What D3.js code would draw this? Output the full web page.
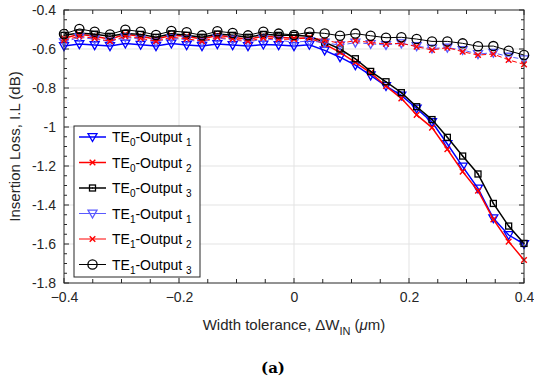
<!DOCTYPE html>
<html>
<head>
<meta charset="utf-8">
<script src="https://cdn.jsdelivr.net/npm/d3@7"></script>
<style>
  body { margin: 0; background: #fff; }
  svg text { font-family: "Liberation Sans", Arial, Helvetica, sans-serif; }
</style>
</head>
<body>
<div id="chart"></div>
<script>
// width offsets (um)
const widthTol = [-0.4, -0.3733, -0.3467, -0.32, -0.2933, -0.2667, -0.24, -0.2133, -0.1867, -0.16,
  -0.1333, -0.1067, -0.08, -0.0533, -0.0267, 0, 0.0267, 0.0533, 0.08, 0.1067,
  0.1333, 0.16, 0.1867, 0.2133, 0.24, 0.2667, 0.2933, 0.32, 0.3467, 0.3733, 0.4];

const te0Out1 = [-0.585, -0.575, -0.58, -0.585, -0.572, -0.578, -0.585, -0.572, -0.58, -0.585,
  -0.575, -0.58, -0.585, -0.577, -0.58, -0.585, -0.578, -0.607, -0.642, -0.683,
  -0.735, -0.79, -0.838, -0.905, -0.975, -1.087, -1.203, -1.315, -1.468, -1.554, -1.6];
const te0Out2 = [-0.545, -0.525, -0.535, -0.55, -0.525, -0.535, -0.55, -0.53, -0.535, -0.55,
  -0.53, -0.54, -0.55, -0.535, -0.54, -0.545, -0.543, -0.575, -0.617, -0.668,
  -0.722, -0.79, -0.853, -0.938, -1.003, -1.114, -1.229, -1.327, -1.474, -1.588, -1.682];
const te0Out3 = [-0.53, -0.518, -0.524, -0.535, -0.52, -0.525, -0.54, -0.522, -0.53, -0.54,
  -0.523, -0.53, -0.54, -0.525, -0.53, -0.53, -0.535, -0.565, -0.6, -0.65,
  -0.715, -0.768, -0.824, -0.896, -0.962, -1.053, -1.149, -1.241, -1.392, -1.508, -1.597];
const te1Out1 = [-0.565, -0.54, -0.55, -0.562, -0.54, -0.55, -0.565, -0.545, -0.552, -0.565,
  -0.545, -0.552, -0.565, -0.548, -0.555, -0.565, -0.559, -0.567, -0.581, -0.567,
  -0.574, -0.579, -0.571, -0.585, -0.597, -0.593, -0.605, -0.626, -0.619, -0.639, -0.653];
const te1Out2 = [-0.555, -0.535, -0.545, -0.56, -0.535, -0.545, -0.56, -0.54, -0.547, -0.56,
  -0.54, -0.548, -0.56, -0.543, -0.55, -0.55, -0.542, -0.554, -0.571, -0.557,
  -0.567, -0.574, -0.571, -0.588, -0.605, -0.593, -0.614, -0.631, -0.626, -0.656, -0.679];
const te1Out3 = [-0.523, -0.497, -0.511, -0.525, -0.501, -0.511, -0.528, -0.508, -0.514, -0.53,
  -0.509, -0.518, -0.53, -0.511, -0.521, -0.528, -0.514, -0.52, -0.532, -0.521,
  -0.532, -0.542, -0.54, -0.549, -0.561, -0.561, -0.571, -0.586, -0.585, -0.609, -0.631];

const xTicks = [-0.4, -0.2, 0, 0.2, 0.4];
const yTicks = [-0.4, -0.6, -0.8, -1, -1.2, -1.4, -1.6, -1.8];

const series = [
  { mode: '0', port: '1', values: te0Out1, color: '#0000ff', marker: 'tri', width: 1.5, dash: null },
  { mode: '0', port: '2', values: te0Out2, color: '#ff0000', marker: 'x', width: 1.5, dash: null },
  { mode: '0', port: '3', values: te0Out3, color: '#000000', marker: 'sq', width: 1.5, dash: null },
  { mode: '1', port: '1', values: te1Out1, color: '#5a5aff', marker: 'tri', width: 1, dash: '5,3' },
  { mode: '1', port: '2', values: te1Out2, color: '#ff0000', marker: 'x', width: 1, dash: '5,3' },
  { mode: '1', port: '3', values: te1Out3, color: '#000000', marker: 'circ', width: 1, dash: null }
];

const W = 534, H = 382;
const pL = 64, pR = 524, pT = 10, pB = 283;

const svg = d3.select('#chart').append('svg')
  .attr('width', W)
  .attr('height', H);

const x = d3.scaleLinear().domain([-0.4, 0.4]).range([pL, pR]);
const y = d3.scaleLinear().domain([-1.8, -0.4]).range([pB, pT]);

// grid
svg.append('g')
  .selectAll('line')
  .data(xTicks.slice(1, -1))
  .enter().append('line')
  .attr('x1', d => x(d)).attr('x2', d => x(d))
  .attr('y1', pT).attr('y2', pB)
  .attr('stroke', '#e3e3e3');
svg.append('g')
  .selectAll('line')
  .data(yTicks.slice(1, -1))
  .enter().append('line')
  .attr('y1', d => y(d)).attr('y2', d => y(d))
  .attr('x1', pL).attr('x2', pR)
  .attr('stroke', '#e3e3e3');

// minor ticks on all four sides
const xMinor = d3.range(-0.4, 0.4001, 0.05);
const yMinor = d3.range(-1.8, -0.3999, 0.05);
const tickCol = '#262626';
const mt = svg.append('g').attr('stroke', tickCol);
xMinor.forEach(v => {
  const major = xTicks.some(t => Math.abs(t - v) < 1e-6);
  const len = major ? 5 : 4;
  mt.append('line').attr('x1', x(v)).attr('x2', x(v)).attr('y1', pB).attr('y2', pB - len);
  mt.append('line').attr('x1', x(v)).attr('x2', x(v)).attr('y1', pT).attr('y2', pT + len);
});
yMinor.forEach(v => {
  const major = yTicks.some(t => Math.abs(t - v) < 1e-6);
  const len = major ? 5 : 3;
  mt.append('line').attr('y1', y(v)).attr('y2', y(v)).attr('x1', pL).attr('x2', pL + len);
  mt.append('line').attr('y1', y(v)).attr('y2', y(v)).attr('x1', pR).attr('x2', pR - len);
});

// axes (labels only, ticks drawn above)
const xAxis = svg.append('g')
  .attr('transform', `translate(0,${pB})`)
  .call(d3.axisBottom(x).tickValues(xTicks).tickSize(0).tickPadding(9).tickFormat(d => d === 0 ? '0' : d3.format('.1f')(d)));
xAxis.select('.domain').remove();
xAxis.attr('font-family', null).attr('font-size', null);
xAxis.selectAll('text').style('font-size', '14px').attr('fill', '#262626');

const yAxis = svg.append('g')
  .attr('transform', `translate(${pL},0)`)
  .call(d3.axisLeft(y).tickValues(yTicks).tickSize(0).tickPadding(8).tickFormat(d => String(+d.toFixed(1))));
yAxis.select('.domain').remove();
yAxis.attr('font-family', null).attr('font-size', null);
yAxis.selectAll('text').style('font-size', '14px').attr('fill', '#262626');

// series
const line = d3.line().x((d, i) => x(widthTol[i])).y(d => y(d));

function drawMarker(g, type, cx, cy, color) {
  if (type === 'tri') {
    const s = 4.5;
    g.append('path')
      .attr('d', `M${cx - s},${cy - s * 0.75}L${cx + s},${cy - s * 0.75}L${cx},${cy + s}Z`)
      .attr('fill', 'none').attr('stroke', color).attr('stroke-width', 1.3);
  } else if (type === 'x') {
    const s = 2.8;
    g.append('path')
      .attr('d', `M${cx - s},${cy - s}L${cx + s},${cy + s}M${cx - s},${cy + s}L${cx + s},${cy - s}`)
      .attr('stroke', color).attr('stroke-width', 1.4);
  } else if (type === 'sq') {
    const s = 3;
    g.append('rect')
      .attr('x', cx - s).attr('y', cy - s).attr('width', 2 * s).attr('height', 2 * s)
      .attr('fill', 'none').attr('stroke', color).attr('stroke-width', 1.3);
    g.append('circle').attr('cx', cx).attr('cy', cy).attr('r', 0.7).attr('fill', color);
  } else if (type === 'circ') {
    g.append('circle').attr('cx', cx).attr('cy', cy).attr('r', 4.6)
      .attr('fill', 'none').attr('stroke', color).attr('stroke-width', 1.3);
  }
}

series.forEach(s => {
  const g = svg.append('g');
  g.append('path')
    .datum(s.values)
    .attr('d', line)
    .attr('fill', 'none')
    .attr('stroke', s.color)
    .attr('stroke-width', s.width)
    .attr('stroke-dasharray', s.dash);
  s.values.forEach((v, i) => drawMarker(g, s.marker, x(widthTol[i]), y(v), s.color));
});

// box
svg.append('rect')
  .attr('x', pL).attr('y', pT)
  .attr('width', pR - pL).attr('height', pB - pT)
  .attr('fill', 'none').attr('stroke', tickCol).attr('stroke-width', 1);

// legend
const lg = svg.append('g');
lg.append('rect')
  .attr('x', 74).attr('y', 126).attr('width', 126).attr('height', 151)
  .attr('fill', '#fff').attr('stroke', '#262626').attr('stroke-width', 1);
series.forEach((s, i) => {
  const cy = 137 + i * 25.5;
  lg.append('line')
    .attr('x1', 79).attr('x2', 106).attr('y1', cy).attr('y2', cy)
    .attr('stroke', s.color).attr('stroke-width', s.width);
  drawMarker(lg, s.marker, 92.5, cy, s.color);
  const t = lg.append('text')
    .attr('x', 112).attr('y', cy + 5)
    .style('font-size', '14px').attr('fill', '#000');
  t.append('tspan').text('TE');
  t.append('tspan').attr('dy', 4).style('font-size', '10px').text(s.mode);
  t.append('tspan').attr('dy', -4).text('-Output ');
  t.append('tspan').attr('dy', 4).style('font-size', '10px').text(s.port);
});

// axis titles
const xl = svg.append('text')
  .attr('x', 294).attr('y', 330)
  .attr('text-anchor', 'middle')
  .style('font-size', '15px').attr('fill', '#262626');
xl.append('tspan').text('Width tolerance, \u0394W');
xl.append('tspan').attr('dy', 5).style('font-size', '11px').text('IN');
xl.append('tspan').attr('dy', -5).text(' (');
xl.append('tspan').style('font-style', 'italic').text('\u03bc');
xl.append('tspan').text('m)');

svg.append('text')
  .attr('transform', `translate(20,${(pT + pB) / 2}) rotate(-90)`)
  .attr('text-anchor', 'middle')
  .style('font-size', '15px').attr('fill', '#262626')
  .text('Insertion Loss, I.L (dB)');

svg.append('text')
  .attr('x', 273).attr('y', 373)
  .attr('text-anchor', 'middle')
  .style('font-family', '"DejaVu Serif", "Liberation Serif", serif')
  .style('font-weight', 'bold').style('font-size', '15px')
  .text('(a)');
</script>
</body>
</html>
